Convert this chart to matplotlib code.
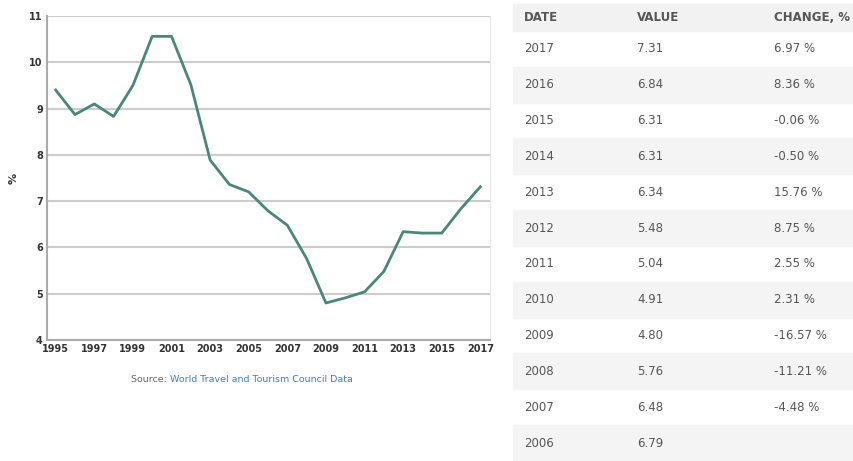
import matplotlib.pyplot as plt
from matplotlib.patches import Rectangle

# chart data
years = list(range(1995, 2018))
values = [9.40, 8.87, 9.10, 8.83, 9.50, 10.56, 10.56, 9.52, 7.89, 7.36, 7.20,
          6.79, 6.48, 5.76, 4.80, 4.91, 5.04, 5.48, 6.34, 6.31, 6.31, 6.84, 7.31]

# table data
table_header = ['DATE', 'VALUE', 'CHANGE, %']
table_dates = ['2017', '2016', '2015', '2014', '2013', '2012', '2011', '2010', '2009', '2008', '2007', '2006']
table_values = ['7.31', '6.84', '6.31', '6.31', '6.34', '5.48', '5.04', '4.91', '4.80', '5.76', '6.48', '6.79']
table_changes = ['6.97 %', '8.36 %', '-0.06 %', '-0.50 %', '15.76 %', '8.75 %', '2.55 %', '2.31 %',
                 '-16.57 %', '-11.21 %', '-4.48 %', '']

W, H = 854, 461
fig = plt.figure(figsize=(W / 100, H / 100), dpi=100)

# --- line chart ---
ax = fig.add_axes([47 / W, 1 - 340 / H, (490 - 47) / W, (340 - 16) / H])
ax.plot(years, values, '-', color='#4b8779', linewidth=2)
ax.set_xlim(1994.55, 2017.5)
ax.set_ylim(4, 11)
ax.set_yticks(range(4, 12))
ax.set_xticks(range(1995, 2018, 2))
ax.grid(axis='y', color='#cccccc', linewidth=1.5)
ax.set_axisbelow(True)
for s in ['left', 'bottom']:
    ax.spines[s].set_color('#aaaaaa')
    ax.spines[s].set_linewidth(1.5)
ax.spines['right'].set_color('#e6e6e6')
ax.spines['top'].set_visible(False)
ax.tick_params(length=0, labelsize=7, labelcolor='#333333', pad=3)
for lbl in ax.get_xticklabels() + ax.get_yticklabels():
    lbl.set_fontweight('bold')
ax.set_ylabel('%', fontsize=8, color='#333333', fontweight='bold', labelpad=8)

fig.text(170 / W, 1 - 379 / H, 'Source: ', ha='right', va='center', fontsize=6.8, color='#666666')
fig.text(170 / W, 1 - 379 / H, 'World Travel and Tourism Council Data', ha='left', va='center',
         fontsize=6.8, color='#3a7fc4')

# --- table ---
tx0, tx1 = 513, 854
ty0, head_h = 4, 27
row_h = (H - ty0 - head_h) / len(table_dates)
col_x = [524, 637, 774]
txt = '#555555'

def fy(y):
    return 1 - y / H

fig.patches.append(Rectangle((tx0 / W, fy(ty0 + head_h)), (tx1 - tx0) / W, head_h / H,
                             transform=fig.transFigure, color='#f2f2f2', zorder=0))
for j, h in enumerate(table_header):
    fig.text(col_x[j] / W, fy(ty0 + head_h / 2), h, ha='left', va='center',
             fontsize=8.5, fontweight='bold', color='#555555')

for i in range(len(table_dates)):
    top = ty0 + head_h + i * row_h
    if i % 2 == 1:
        fig.patches.append(Rectangle((tx0 / W, fy(top + row_h)), (tx1 - tx0) / W, row_h / H,
                                     transform=fig.transFigure, color='#f4f4f4', zorder=0))
    cy = fy(top + row_h / 2)
    for j, v in enumerate([table_dates[i], table_values[i], table_changes[i]]):
        fig.text(col_x[j] / W, cy, v, ha='left', va='center', fontsize=8.5, color=txt)

fig.savefig('out.png', dpi=100)
